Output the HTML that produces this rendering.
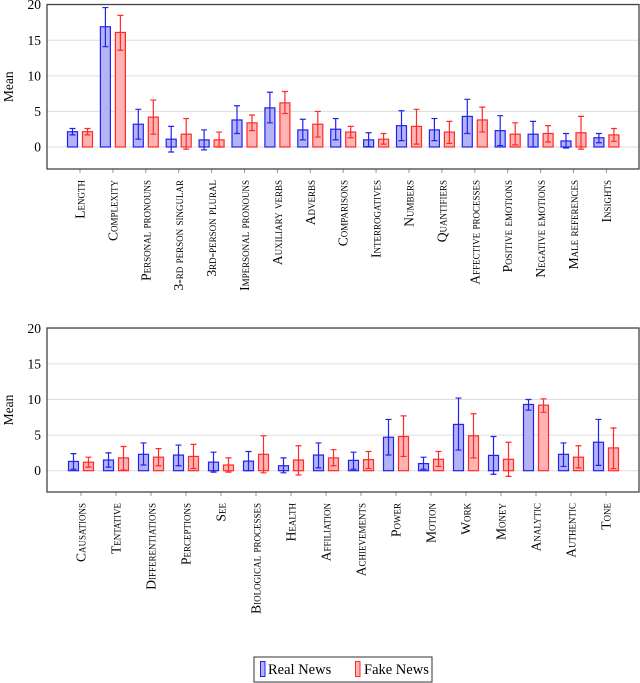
<!DOCTYPE html>
<html><head><meta charset="utf-8"><style>
body{margin:0;background:#fff;}
svg{display:block;}
svg text{font-family:"Liberation Serif","DejaVu Serif",serif;}
.lbl{font-variant:small-caps;font-size:13.5px;}
</style></head><body>
<svg id="c" width="640" height="683" font-family="Liberation Serif, serif"></svg>
<script>
const topCats=["Length","Complexity","Personal pronouns","3-rd person singular","3rd-person plural","Impersonal pronouns","Auxiliary verbs","Adverbs","Comparisons","Interrogatives","Numbers","Quantifiers","Affective processes","Positive emotions","Negative emotions","Male references","Insights"];
const topReal=[2.15,16.9,3.2,1.1,1.0,3.8,5.5,2.4,2.5,1.0,3.0,2.4,4.3,2.3,1.8,0.85,1.3];
const topRealLo=[1.7,14.1,1.1,-0.7,-0.4,1.9,3.4,1.0,1.0,0.05,0.9,0.9,1.9,0.2,0,-0.15,0.6];
const topRealHi=[2.6,19.6,5.3,2.9,2.4,5.8,7.7,3.9,4.0,2.0,5.1,4.0,6.7,4.4,3.6,1.9,1.9];
const topFake=[2.15,16.1,4.2,1.8,1.0,3.4,6.2,3.2,2.1,1.1,2.9,2.1,3.8,1.8,1.9,2.0,1.7];
const topFakeLo=[1.7,13.6,1.8,-0.3,0,2.3,4.7,1.4,1.3,0.4,0.4,0.5,2.1,0.3,0.7,-0.3,0.8];
const topFakeHi=[2.6,18.5,6.6,4.0,2.1,4.5,7.8,5.0,2.9,1.9,5.3,3.6,5.6,3.4,3.0,4.3,2.6];
const botCats=["Causations","Tentative","Differentiations","Perceptions","See","Biological processes","Health","Affiliation","Achievements","Power","Motion","Work","Money","Analytic","Authentic","Tone"];
const botReal=[1.3,1.5,2.3,2.2,1.2,1.35,0.7,2.2,1.45,4.7,1.0,6.5,2.15,9.3,2.3,4.0];
const botRealLo=[0.2,0.5,0.8,0.7,-0.2,0,-0.3,0.4,0.2,2.2,0.2,2.9,-0.5,8.5,0.6,0.75];
const botRealHi=[2.4,2.5,3.9,3.6,2.6,2.7,1.8,3.9,2.6,7.2,1.9,10.2,4.8,10.0,3.9,7.2];
const botFake=[1.2,1.8,1.9,2.0,0.8,2.3,1.5,1.8,1.55,4.8,1.6,4.9,1.6,9.2,1.9,3.2];
const botFakeLo=[0.5,0.1,0.7,0.3,-0.2,-0.3,-0.6,0.7,0.3,2.0,0.6,1.8,-0.8,8.2,0.4,0.3];
const botFakeHi=[1.9,3.4,3.1,3.7,1.8,4.9,3.5,2.95,2.7,7.7,2.7,8.0,4.0,10.1,3.5,6.0];
const yTicks=[0,5,10,15,20];

const svg=document.getElementById('c');
const NS="http://www.w3.org/2000/svg";
function mk(t,a,p){const e=document.createElementNS(NS,t);for(const k in a)e.setAttribute(k,a[k]);if(t==='text')e.setAttribute('font-family','Liberation Serif, serif');(p||svg).appendChild(e);return e;}

function chart(cfg){
  const g=mk('g',{});
  
  
  const y=v=>cfg.y0-(v)*(cfg.y0-cfg.y20)/20;
  const x=i=>cfg.x0+i*cfg.step;
  yTicks.forEach(t=>{
    const gl=mk('line',{x1:cfg.left,x2:cfg.right,y1:y(t),y2:y(t),stroke:'#ddd','stroke-width':1},g);
    
    
    const tl=mk('text',{x:cfg.left-6,y:y(t)+4.5,'text-anchor':'end','font-size':13.5},g);
    tl.textContent=t;
    
    
  });
  const yt=mk('text',{transform:`translate(13,${(cfg.top+cfg.bottom)/2}) rotate(-90)`,'text-anchor':'middle','font-size':13.5},g);
  yt.textContent='Mean';
  
  
  function bar(cx,v,lo,hi,col,fill,nm){
    const w=10;
    const r=mk('rect',{x:cx-w/2,y:Math.min(y(v),y(0)),width:w,height:Math.abs(y(0)-y(v)),fill:fill,stroke:col,'stroke-width':1.2},g);
    
    
    const e=mk('path',{d:`M${cx},${y(lo)}V${y(hi)}M${cx-3},${y(lo)}H${cx+3}M${cx-3},${y(hi)}H${cx+3}`,stroke:col,'stroke-width':1.2,fill:'none'},g);
    
    
  }
  cfg.cats.forEach((c,i)=>{
    const cx=x(i);
    bar(cx-7.5,cfg.real[i],cfg.rlo[i],cfg.rhi[i],'#2222ee','#b3b3f5','bar-real');
    bar(cx+7.5,cfg.fake[i],cfg.flo[i],cfg.fhi[i],'#ff2a2a','#ffb3b3','bar-fake');
    mk('line',{x1:cx,x2:cx,y1:cfg.bottom,y2:cfg.bottom+4,stroke:'#999'},g);
    const t=mk('text',{transform:`translate(${cx+4.5},${cfg.bottom+11}) rotate(-90)`,'text-anchor':'end',class:'lbl','font-variant':'small-caps','font-size':13.5},g);
    t.textContent=c;
    
    
  });
  const f=mk('rect',{x:cfg.left,y:cfg.top,width:cfg.right-cfg.left,height:cfg.bottom-cfg.top,fill:'none',stroke:'#444','stroke-width':1.3},g);
  
  
}
chart({name:'top-chart',cats:topCats,real:topReal,rlo:topRealLo,rhi:topRealHi,fake:topFake,flo:topFakeLo,fhi:topFakeHi,
  left:47,right:639,top:4.5,bottom:169,y0:147,y20:4.7,x0:80,step:32.9});
chart({name:'bottom-chart',cats:botCats,real:botReal,rlo:botRealLo,rhi:botRealHi,fake:botFake,flo:botFakeLo,fhi:botFakeHi,
  left:47,right:639,top:328,bottom:492,y0:470.7,y20:328.3,x0:81,step:35});

const lg=mk('g',{});


mk('rect',{x:254,y:657,width:178,height:25,fill:'#fff',stroke:'#333','stroke-width':1},lg);
const s1=mk('rect',{x:260.5,y:661.5,width:4.5,height:15,fill:'#b3b3f5',stroke:'#2222ee'},lg);


const t1=mk('text',{x:268,y:674,'font-size':14.5},lg);t1.textContent='Real News';


const s2=mk('rect',{x:355.5,y:661.5,width:4.5,height:15,fill:'#ffb3b3',stroke:'#ff2a2a'},lg);


const t2=mk('text',{x:364,y:674,'font-size':14.5},lg);t2.textContent='Fake News';


</script>
</body></html>
